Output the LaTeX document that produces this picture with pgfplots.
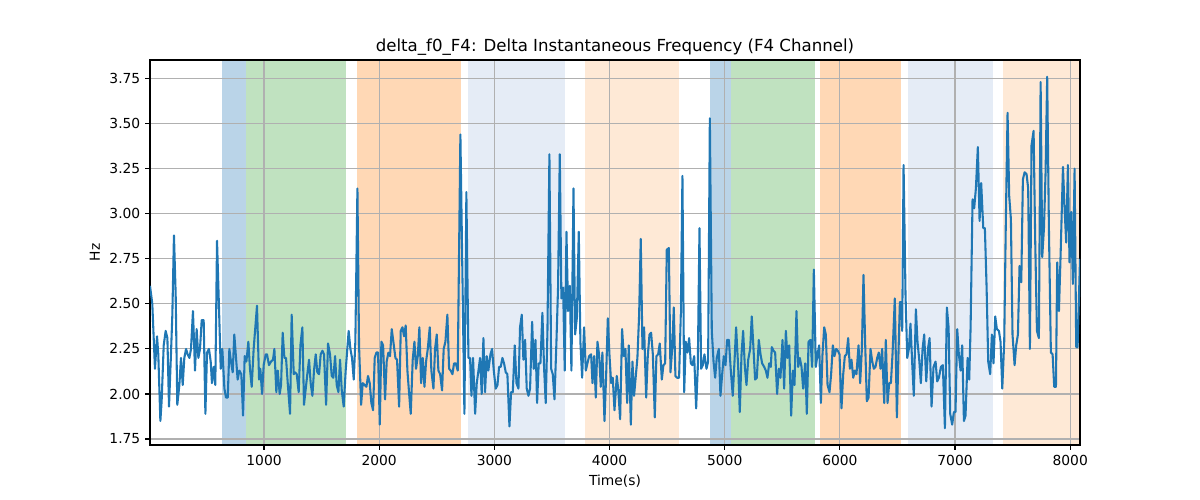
\documentclass[border=0pt]{standalone}
\usepackage{pgfplots}
\pgfplotsset{compat=1.18}
\usepackage{fontspec}
\setmainfont{DejaVu Sans}
\definecolor{tabblue}{HTML}{1F77B4}
\definecolor{taborange}{HTML}{FF7F0E}
\definecolor{tabgreen}{HTML}{2CA02C}
\definecolor{bandblue}{HTML}{BAD4E8}
\definecolor{bandgreen}{HTML}{C0E2C0}
\definecolor{bandorange}{HTML}{FFD8B5}
\definecolor{bandlblue}{HTML}{E5ECF6}
\definecolor{bandlorange}{HTML}{FEE9D6}
\pgfplotsset{band/.style={draw=none, fill=#1, area legend},
  common/.style={at={(1.5in,0.55in)}, anchor=south west,
  scale only axis, width=9.3in, height=3.85in,
  xmin=10, xmax=8085, ymin=1.717, ymax=3.853}}
\begin{document}
\begin{tikzpicture}
\path (0,0) rectangle (12in,5in);
\begin{axis}[common,
  axis on top,
  xtick={1000,2000,3000,4000,5000,6000,7000,8000},
  ytick={1.75,2.00,2.25,2.50,2.75,3.00,3.25,3.50,3.75},
  grid=major,
  grid style={color=black!31, line width=0.8pt},
  axis line style={line width=0.8pt},
  tick style={black, line width=0.8pt},
  tick align=outside, major tick length=3.5pt,
  tick pos=left,
  ticklabel style={font=\fontsize{10}{12}\selectfont},
  /pgf/number format/assume math mode=true,
  xticklabel style={/pgf/number format/1000 sep={}},
  yticklabel style={/pgf/number format/.cd, fixed, fixed zerofill, precision=2},
  title={delta\_f0\_F4: Delta Instantaneous Frequency (F4 Channel)},
  title style={font=\fontsize{12}{14}\selectfont, yshift=-6.5pt},
  xlabel={Time(s)}, ylabel={Hz},
  label style={font=\fontsize{10}{12}\selectfont},
]
\addplot[band=bandblue] coordinates {(638,3.853) (847,3.853)} \closedcycle;
\addplot[band=bandgreen] coordinates {(847,3.853) (1709,3.853)} \closedcycle;
\addplot[band=bandorange] coordinates {(1808,3.853) (2711,3.853)} \closedcycle;
\addplot[band=bandlblue] coordinates {(2769,3.853) (3614,3.853)} \closedcycle;
\addplot[band=bandlorange] coordinates {(3788,3.853) (4604,3.853)} \closedcycle;
\addplot[band=bandblue] coordinates {(4874,3.853) (5056,3.853)} \closedcycle;
\addplot[band=bandgreen] coordinates {(5056,3.853) (5785,3.853)} \closedcycle;
\addplot[band=bandorange] coordinates {(5829,3.853) (6532,3.853)} \closedcycle;
\addplot[band=bandlblue] coordinates {(6590,3.853) (7329,3.853)} \closedcycle;
\addplot[band=bandlorange] coordinates {(7418,3.853) (8085,3.853)} \closedcycle;
\end{axis}
\begin{axis}[common, hide axis]
\addplot[tabblue, line width=1.5pt, line join=round, mark=none] coordinates {
(10,2.60) (30,2.50) (53,2.14) (71,2.32) (82,2.22) (100,1.85) (111,1.96) (129,2.27) (146,2.35) (161,2.31) (175,1.93) (192,2.22) (204,2.44) (218,2.88) (233,2.55) (247,1.94) (265,2.05) (279,2.20) (294,2.05) (308,2.20) (323,2.25) (337,2.22) (352,2.20) (366,2.25) (383,2.46) (401,2.13) (415,2.36) (430,2.20) (444,2.25) (459,2.41) (476,2.41) (491,1.89) (505,2.23) (522,2.25) (537,2.18) (548,2.06) (563,2.15) (577,2.05) (592,2.85) (609,2.48) (624,2.14) (638,2.25) (656,2.03) (670,1.98) (685,1.98) (699,2.25) (713,2.18) (728,2.12) (742,2.33) (757,2.20) (771,2.08) (786,2.13) (803,2.11) (818,1.88) (832,2.21) (847,2.18) (864,2.29) (878,2.14) (893,2.04) (910,2.25) (939,2.49) (957,2.08) (968,2.14) (983,2.00) (997,2.16) (1015,2.22) (1026,2.22) (1043,2.16) (1061,2.18) (1078,2.19) (1090,2.25) (1107,2.01) (1119,2.13) (1136,2.00) (1148,2.05) (1162,2.34) (1177,2.20) (1191,2.20) (1206,2.06) (1226,1.89) (1240,2.44) (1258,2.11) (1269,2.12) (1284,2.11) (1301,2.01) (1316,2.27) (1333,2.37) (1347,1.94)
(1376,2.11) (1391,2.19) (1405,2.06) (1420,1.99) (1434,2.13) (1449,2.22) (1463,2.12) (1478,2.11) (1492,2.22) (1507,2.24) (1521,2.22) (1539,1.94) (1556,2.28) (1573,2.22) (1588,2.10) (1602,2.09) (1617,2.21) (1631,2.05) (1646,2.01) (1660,2.19) (1675,2.02) (1692,1.93) (1709,2.13) (1735,2.35) (1750,2.25) (1764,2.20) (1779,2.08) (1793,2.29) (1811,3.14) (1825,2.27) (1843,1.94) (1857,2.06) (1874,2.05) (1889,2.04) (1903,2.10) (1918,2.06) (1932,1.95) (1947,1.91) (1961,2.20) (1976,2.23) (1990,2.23) (2005,1.83) (2019,2.29) (2034,2.27) (2051,1.97) (2065,2.18) (2080,2.23) (2094,2.21) (2109,2.36) (2123,2.29) (2141,2.20) (2155,2.19) (2173,1.93) (2187,2.35) (2202,2.37) (2216,2.32) (2230,2.38) (2245,2.13) (2259,2.01) (2274,1.89) (2291,2.19) (2306,2.29) (2320,2.14) (2335,2.21) (2349,2.37) (2364,2.06) (2378,2.20) (2393,2.04) (2407,2.18) (2422,2.25) (2439,2.37) (2453,2.13) (2471,2.03) (2485,2.25) (2500,2.33) (2514,2.13) (2529,2.11) (2546,2.02) (2560,2.25) (2575,2.29) (2592,2.44) (2607,2.14) (2621,2.13) (2636,2.11) (2650,2.17) (2665,2.17) (2682,2.13)
(2705,3.44) (2740,1.89) (2757,3.12) (2775,2.20) (2789,2.20) (2801,1.99) (2815,2.20) (2833,1.89) (2847,2.06) (2862,2.13) (2876,2.20) (2890,2.00) (2905,2.31) (2919,2.01) (2934,2.21) (2948,2.13) (2966,2.22) (2980,2.25) (2995,2.13) (3012,2.03) (3027,2.05) (3041,2.15) (3055,2.15) (3070,2.20) (3084,2.17) (3099,2.12) (3113,2.11) (3131,1.82) (3145,2.01) (3160,2.01) (3177,2.27) (3192,2.06) (3209,2.03) (3223,2.37) (3238,2.44) (3252,2.19) (3267,2.30) (3281,2.03) (3296,1.99) (3310,2.03) (3328,2.40) (3342,2.14) (3357,2.30) (3371,1.95) (3385,2.17) (3400,2.17) (3417,2.45) (3432,2.14) (3446,1.95) (3461,2.35) (3478,3.33) (3493,2.14) (3507,2.11) (3522,1.97) (3539,2.29) (3553,2.59) (3568,3.33) (3582,2.53) (3597,2.59) (3611,2.13) (3626,2.90) (3640,2.46) (3655,2.60) (3669,2.13) (3687,3.14) (3701,2.33) (3716,2.42) (3733,2.90) (3747,2.29) (3762,2.09) (3779,2.37) (3794,2.13) (3808,2.17) (3823,2.21) (3840,2.22) (3852,2.06) (3866,2.21) (3881,1.98) (3895,2.29) (3909,2.22) (3924,2.04) (3938,2.23) (3956,1.85) (3970,2.09) (3985,2.42) (3999,2.22) (4014,2.06) (4028,2.09) (4043,1.91)
(4063,2.10) (4075,2.03) (4092,1.86) (4109,2.36) (4124,2.21) (4138,2.25) (4153,1.95) (4167,2.27) (4185,1.83) (4199,2.18) (4213,1.99) (4228,2.10) (4242,2.20) (4257,2.44) (4271,2.86) (4286,2.25) (4300,2.37) (4318,1.98) (4332,2.21) (4347,2.33) (4361,2.34) (4376,2.22) (4393,1.87) (4407,2.21) (4422,2.22) (4436,2.28) (4454,2.08) (4468,2.16) (4483,2.17) (4497,2.80) (4515,2.81) (4529,2.12) (4544,2.25) (4558,2.48) (4572,2.10) (4587,2.09) (4604,2.09) (4619,2.45) (4633,3.21) (4648,2.01) (4662,2.29) (4677,2.23) (4691,2.31) (4706,2.17) (4720,2.16) (4735,2.21) (4752,1.92) (4766,2.14) (4781,2.92) (4795,2.14) (4810,2.16) (4824,2.22) (4842,2.14) (4856,2.18) (4871,3.53) (4888,2.35) (4903,2.18) (4917,2.09) (4931,2.20) (4949,2.25) (4963,1.99) (4978,2.11) (4992,2.21) (5007,2.16) (5021,2.30) (5036,2.30) (5053,2.13) (5070,1.99) (5085,2.18) (5099,2.37) (5117,2.15) (5131,1.90) (5146,2.22) (5160,2.35) (5175,2.15) (5189,2.05) (5204,2.19) (5221,2.25) (5235,2.43) (5250,2.25) (5264,2.08) (5279,2.09) (5296,2.30) (5311,2.22) (5325,2.17) (5343,2.15) (5357,2.13) (5371,2.09) (5386,2.17)
(5400,2.15) (5409,2.26) (5424,2.24) (5438,2.23) (5455,2.00) (5470,2.14) (5484,2.09) (5502,2.30) (5516,2.03) (5531,2.35) (5545,2.20) (5560,2.27) (5577,1.88) (5592,2.13) (5606,2.05) (5623,2.46) (5638,2.15) (5652,2.20) (5667,2.15) (5681,2.03) (5699,2.17) (5713,1.89) (5728,2.29) (5745,2.30) (5759,2.15) (5774,2.69) (5791,2.15) (5806,2.22) (5820,2.27) (5835,1.95) (5849,2.22) (5864,2.37) (5878,2.33) (5893,2.05) (5910,2.01) (5924,2.11) (5939,2.27) (5953,2.21) (5968,2.25) (5982,2.24) (5997,2.22) (6014,1.92) (6029,2.11) (6043,2.21) (6058,2.22) (6072,2.31) (6087,2.14) (6101,2.19) (6116,2.09) (6130,2.13) (6144,2.11) (6162,2.27) (6176,2.06) (6191,2.25) (6205,2.66) (6220,2.27) (6234,1.96) (6249,1.98) (6266,2.25) (6281,2.18) (6295,2.14) (6309,2.15) (6324,2.20) (6338,2.23) (6353,2.14) (6367,2.25) (6385,1.95) (6399,2.30) (6414,1.95) (6428,2.06) (6443,2.06) (6457,2.22) (6477,2.53) (6495,1.87) (6509,2.23) (6521,2.51) (6532,2.51) (6541,2.35) (6553,3.27) (6570,2.55) (6585,2.20) (6599,2.25) (6613,2.39) (6628,2.17) (6642,1.99) (6660,2.47) (6674,2.29) (6689,2.19) (6703,2.06) (6718,2.25) (6732,2.33)
(6750,2.07) (6767,2.26) (6779,2.31) (6796,1.93) (6813,2.15) (6831,2.18) (6845,2.07) (6860,2.09) (6877,2.15) (6894,2.16) (6912,1.81) (6929,2.48) (6944,2.37) (6958,1.89) (6975,1.83) (6990,1.90) (7004,1.90) (7019,2.36) (7033,2.22) (7048,2.13) (7062,2.27) (7077,1.85) (7091,1.88) (7109,2.20) (7123,2.08) (7135,2.37) (7152,3.08) (7166,3.03) (7181,3.14) (7198,3.37) (7213,2.96) (7227,3.17) (7245,2.92) (7259,2.92) (7274,2.59) (7288,2.18) (7305,2.11) (7320,2.33) (7334,2.17) (7349,2.43) (7363,2.36) (7381,2.35) (7395,2.29) (7410,2.03) (7427,2.29) (7441,2.96) (7456,3.56) (7470,3.10) (7485,2.97) (7499,2.33) (7517,2.16) (7531,2.27) (7546,2.33) (7560,2.71) (7575,2.62) (7589,3.19) (7604,3.23) (7621,3.22) (7635,3.14) (7650,2.25) (7664,3.38) (7682,3.46) (7696,2.85) (7711,2.35) (7728,2.31) (7743,3.73) (7757,2.76) (7772,2.92) (7786,3.23) (7800,3.76) (7815,2.92) (7832,2.23) (7847,2.22) (7861,2.04) (7876,2.04) (7887,2.73) (7902,2.46) (7916,2.76) (7937,3.26) (7951,3.03) (7965,2.84) (7980,3.27) (7994,2.73) (8009,3.01) (8023,2.61) (8038,3.25) (8052,2.26) (8064,2.26) (8085,2.75)
};
\end{axis}
\end{tikzpicture}
\end{document}
